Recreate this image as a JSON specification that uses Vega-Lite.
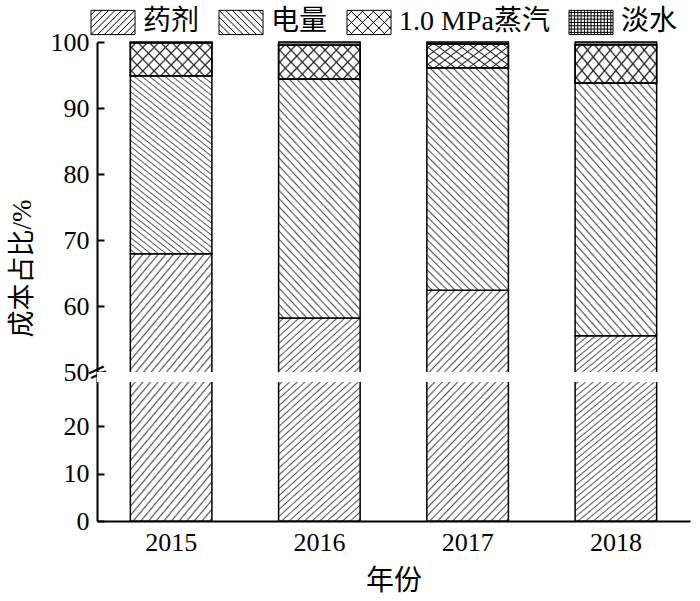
{
  "$schema": "https://vega.github.io/schema/vega-lite/v6.json",
  "width": 593,
  "height": 479,
  "autosize": "none",
  "padding": {"left": 97, "top": 42, "right": 10, "bottom": 80},
  "background": "white",
  "config": {
    "view": {"stroke": null},
    "font": "Liberation Serif, Noto Sans CJK SC",
    "axis": {
      "labelFont": "Liberation Serif, Noto Sans CJK SC",
      "titleFont": "Liberation Serif, Noto Sans CJK SC",
      "labelColor": "black",
      "titleColor": "black",
      "titleFontWeight": "normal",
      "domainColor": "black",
      "tickColor": "black"
    }
  },
  "data": {
    "values": [
      {"year": "2015", "cat": "药剂", "ord": 1, "value": 67.9},
      {"year": "2015", "cat": "电量", "ord": 2, "value": 27.0},
      {"year": "2015", "cat": "1.0 MPa蒸汽", "ord": 3, "value": 5.0},
      {"year": "2015", "cat": "淡水", "ord": 4, "value": 0.1},
      {"year": "2016", "cat": "药剂", "ord": 1, "value": 58.2},
      {"year": "2016", "cat": "电量", "ord": 2, "value": 36.2},
      {"year": "2016", "cat": "1.0 MPa蒸汽", "ord": 3, "value": 5.1},
      {"year": "2016", "cat": "淡水", "ord": 4, "value": 0.5},
      {"year": "2017", "cat": "药剂", "ord": 1, "value": 62.4},
      {"year": "2017", "cat": "电量", "ord": 2, "value": 33.7},
      {"year": "2017", "cat": "1.0 MPa蒸汽", "ord": 3, "value": 3.6},
      {"year": "2017", "cat": "淡水", "ord": 4, "value": 0.3},
      {"year": "2018", "cat": "药剂", "ord": 1, "value": 55.5},
      {"year": "2018", "cat": "电量", "ord": 2, "value": 38.3},
      {"year": "2018", "cat": "1.0 MPa蒸汽", "ord": 3, "value": 5.8},
      {"year": "2018", "cat": "淡水", "ord": 4, "value": 0.4}
    ]
  },
  "transform": [
    {"stack": "value", "groupby": ["year"], "sort": [{"field": "ord", "order": "ascending"}], "as": ["v0", "v1"]}
  ],
  "resolve": {"axis": {"y": "independent"}},
  "layer": [
    {
      "mark": {"type": "point", "filled": false, "color": "black", "strokeWidth": 1, "size": 484, "opacity": 1},
      "encoding": {
        "x": {
          "field": "year", "type": "nominal",
          "scale": {"type": "band", "paddingInner": 0.45, "paddingOuter": 0.225},
          "axis": {
            "title": "年份", "labelAngle": 0, "labelFontSize": 26, "titleFontSize": 28,
            "domainWidth": 2, "tickWidth": 2, "tickSize": -7, "labelPadding": 15, "titlePadding": 12
          }
        },
        "y": {
          "datum": 10, "type": "quantitative",
          "scale": {"type": "linear", "domain": [0, 29.3, 50, 100], "range": [479, 340, 330, 0], "nice": false, "zero": false},
          "axis": null
        },
        "shape": {
          "field": "cat", "type": "nominal",
          "scale": {
            "domain": ["药剂", "电量", "1.0 MPa蒸汽", "淡水"],
            "range": [
              "M-2,-1.1H2V1.1H-2Z M-2,-0.7L-1.6,-1.1 M-2,-0.1L-1,-1.1 M-2,0.5L-0.4,-1.1 M-2,1.1L0.2,-1.1 M-1.4,1.1L0.8,-1.1 M-0.8,1.1L1.4,-1.1 M-0.2,1.1L2,-1.1 M0.4,1.1L2,-0.5 M1,1.1L2,0.1 M1.6,1.1L2,0.7",
              "M-2,-1.1H2V1.1H-2Z M-2,0.7L-1.6,1.1 M-2,0.1L-1,1.1 M-2,-0.5L-0.4,1.1 M-2,-1.1L0.2,1.1 M-1.4,-1.1L0.8,1.1 M-0.8,-1.1L1.4,1.1 M-0.2,-1.1L2,1.1 M0.4,-1.1L2,0.5 M1,-1.1L2,-0.1 M1.6,-1.1L2,-0.7",
              "M-2,-1.1H2V1.1H-2Z M-2,-0.6L-1.5,-1.1 M-2,0.4L-0.5,-1.1 M-1.7,1.1L0.5,-1.1 M-0.7,1.1L1.5,-1.1 M0.3,1.1L2,-0.6 M1.3,1.1L2,0.4 M-2,0.6L-1.5,1.1 M-2,-0.4L-0.5,1.1 M-1.7,-1.1L0.5,1.1 M-0.7,-1.1L1.5,1.1 M0.3,-1.1L2,0.6 M1.3,-1.1L2,-0.4",
              "M-2,-1.1H2V1.1H-2Z M-1.8,-1.1V1.1 M-1.5,-1.1V1.1 M-1.2,-1.1V1.1 M-0.9,-1.1V1.1 M-0.6,-1.1V1.1 M-0.3,-1.1V1.1 M0,-1.1V1.1 M0.3,-1.1V1.1 M0.6,-1.1V1.1 M0.9,-1.1V1.1 M1.2,-1.1V1.1 M1.5,-1.1V1.1 M1.8,-1.1V1.1 M-2,-0.9H2 M-2,-0.6H2 M-2,-0.3H2 M-2,0H2 M-2,0.3H2 M-2,0.6H2 M-2,0.9H2"
            ]
          },
          "legend": {
            "orient": "none", "legendX": 2, "legendY": -34, "direction": "horizontal", "title": null,
            "padding": 0, "symbolSize": 484, "symbolStrokeWidth": 1, "symbolOpacity": 1,
            "labelFontSize": 28, "labelFont": "Liberation Serif, Noto Sans CJK SC", "labelColor": "black",
            "labelOffset": 16, "columnPadding": 17
          }
        }
      }
    },
    {
      "mark": {"type": "bar", "stroke": "black", "strokeWidth": 1.5},
      "encoding": {
        "x": {
          "field": "year", "type": "nominal",
          "scale": {"type": "band", "paddingInner": 0.45, "paddingOuter": 0.225},
          "axis": {
            "title": "年份", "labelAngle": 0, "labelFontSize": 26, "titleFontSize": 28,
            "domainWidth": 2, "tickWidth": 2, "tickSize": -7, "labelPadding": 15, "titlePadding": 12
          }
        },
        "y": {
          "field": "v0", "type": "quantitative",
          "scale": {"type": "linear", "domain": [0, 29.3, 50, 100], "range": [479, 340, 330, 0], "nice": false, "zero": false},
          "axis": {
            "title": "成本占比/%", "values": [0, 10, 20, 50, 60, 70, 80, 90, 100], "grid": false,
            "labelFontSize": 26, "titleFontSize": 27, "domainWidth": 2, "tickWidth": 2, "tickSize": -7,
            "labelPadding": 15, "titlePadding": 14, "orient": "left", "titleY": 226, "titleX": -61
          }
        },
        "y2": {"field": "v1"},
        "fill": {
          "condition": [
            {"test": "datum.cat === '药剂'", "value": {"gradient": "linear", "x1": 0, "y1": 0, "x2": 0.4385, "y2": 1.2045, "stops": [
                {"offset": 0, "color": "#fff"},
                {"offset": 0.0125, "color": "#fff"}, {"offset": 0.0175, "color": "#555"}, {"offset": 0.0225, "color": "#fff"},
                {"offset": 0.0375, "color": "#fff"}, {"offset": 0.0425, "color": "#555"}, {"offset": 0.0475, "color": "#fff"},
                {"offset": 0.0625, "color": "#fff"}, {"offset": 0.0675, "color": "#555"}, {"offset": 0.0725, "color": "#fff"},
                {"offset": 0.0875, "color": "#fff"}, {"offset": 0.0925, "color": "#555"}, {"offset": 0.0975, "color": "#fff"},
                {"offset": 0.1125, "color": "#fff"}, {"offset": 0.1175, "color": "#555"}, {"offset": 0.1225, "color": "#fff"},
                {"offset": 0.1375, "color": "#fff"}, {"offset": 0.1425, "color": "#555"}, {"offset": 0.1475, "color": "#fff"},
                {"offset": 0.1625, "color": "#fff"}, {"offset": 0.1675, "color": "#555"}, {"offset": 0.1725, "color": "#fff"},
                {"offset": 0.1875, "color": "#fff"}, {"offset": 0.1925, "color": "#555"}, {"offset": 0.1975, "color": "#fff"},
                {"offset": 0.2125, "color": "#fff"}, {"offset": 0.2175, "color": "#555"}, {"offset": 0.2225, "color": "#fff"},
                {"offset": 0.2375, "color": "#fff"}, {"offset": 0.2425, "color": "#555"}, {"offset": 0.2475, "color": "#fff"},
                {"offset": 0.2625, "color": "#fff"}, {"offset": 0.2675, "color": "#555"}, {"offset": 0.2725, "color": "#fff"},
                {"offset": 0.2875, "color": "#fff"}, {"offset": 0.2925, "color": "#555"}, {"offset": 0.2975, "color": "#fff"},
                {"offset": 0.3125, "color": "#fff"}, {"offset": 0.3175, "color": "#555"}, {"offset": 0.3225, "color": "#fff"},
                {"offset": 0.3375, "color": "#fff"}, {"offset": 0.3425, "color": "#555"}, {"offset": 0.3475, "color": "#fff"},
                {"offset": 0.3625, "color": "#fff"}, {"offset": 0.3675, "color": "#555"}, {"offset": 0.3725, "color": "#fff"},
                {"offset": 0.3875, "color": "#fff"}, {"offset": 0.3925, "color": "#555"}, {"offset": 0.3975, "color": "#fff"},
                {"offset": 0.4125, "color": "#fff"}, {"offset": 0.4175, "color": "#555"}, {"offset": 0.4225, "color": "#fff"},
                {"offset": 0.4375, "color": "#fff"}, {"offset": 0.4425, "color": "#555"}, {"offset": 0.4475, "color": "#fff"},
                {"offset": 0.4625, "color": "#fff"}, {"offset": 0.4675, "color": "#555"}, {"offset": 0.4725, "color": "#fff"},
                {"offset": 0.4875, "color": "#fff"}, {"offset": 0.4925, "color": "#555"}, {"offset": 0.4975, "color": "#fff"},
                {"offset": 0.5125, "color": "#fff"}, {"offset": 0.5175, "color": "#555"}, {"offset": 0.5225, "color": "#fff"},
                {"offset": 0.5375, "color": "#fff"}, {"offset": 0.5425, "color": "#555"}, {"offset": 0.5475, "color": "#fff"},
                {"offset": 0.5625, "color": "#fff"}, {"offset": 0.5675, "color": "#555"}, {"offset": 0.5725, "color": "#fff"},
                {"offset": 0.5875, "color": "#fff"}, {"offset": 0.5925, "color": "#555"}, {"offset": 0.5975, "color": "#fff"},
                {"offset": 0.6125, "color": "#fff"}, {"offset": 0.6175, "color": "#555"}, {"offset": 0.6225, "color": "#fff"},
                {"offset": 0.6375, "color": "#fff"}, {"offset": 0.6425, "color": "#555"}, {"offset": 0.6475, "color": "#fff"},
                {"offset": 0.6625, "color": "#fff"}, {"offset": 0.6675, "color": "#555"}, {"offset": 0.6725, "color": "#fff"},
                {"offset": 0.6875, "color": "#fff"}, {"offset": 0.6925, "color": "#555"}, {"offset": 0.6975, "color": "#fff"},
                {"offset": 0.7125, "color": "#fff"}, {"offset": 0.7175, "color": "#555"}, {"offset": 0.7225, "color": "#fff"},
                {"offset": 0.7375, "color": "#fff"}, {"offset": 0.7425, "color": "#555"}, {"offset": 0.7475, "color": "#fff"},
                {"offset": 0.7625, "color": "#fff"}, {"offset": 0.7675, "color": "#555"}, {"offset": 0.7725, "color": "#fff"},
                {"offset": 0.7875, "color": "#fff"}, {"offset": 0.7925, "color": "#555"}, {"offset": 0.7975, "color": "#fff"},
                {"offset": 0.8125, "color": "#fff"}, {"offset": 0.8175, "color": "#555"}, {"offset": 0.8225, "color": "#fff"},
                {"offset": 0.8375, "color": "#fff"}, {"offset": 0.8425, "color": "#555"}, {"offset": 0.8475, "color": "#fff"},
                {"offset": 0.8625, "color": "#fff"}, {"offset": 0.8675, "color": "#555"}, {"offset": 0.8725, "color": "#fff"},
                {"offset": 0.8875, "color": "#fff"}, {"offset": 0.8925, "color": "#555"}, {"offset": 0.8975, "color": "#fff"},
                {"offset": 0.9125, "color": "#fff"}, {"offset": 0.9175, "color": "#555"}, {"offset": 0.9225, "color": "#fff"},
                {"offset": 0.9375, "color": "#fff"}, {"offset": 0.9425, "color": "#555"}, {"offset": 0.9475, "color": "#fff"},
                {"offset": 0.9625, "color": "#fff"}, {"offset": 0.9675, "color": "#555"}, {"offset": 0.9725, "color": "#fff"},
                {"offset": 0.9875, "color": "#fff"}, {"offset": 0.9925, "color": "#555"}, {"offset": 0.9975, "color": "#fff"},
                {"offset": 1, "color": "#fff"}
              ]}},
            {"test": "datum.cat === '电量'", "value": {"gradient": "linear", "x1": 0, "y1": 1, "x2": 0.4385, "y2": -0.2045, "stops": [
                {"offset": 0, "color": "#fff"},
                {"offset": 0.0125, "color": "#fff"}, {"offset": 0.0175, "color": "#555"}, {"offset": 0.0225, "color": "#fff"},
                {"offset": 0.0375, "color": "#fff"}, {"offset": 0.0425, "color": "#555"}, {"offset": 0.0475, "color": "#fff"},
                {"offset": 0.0625, "color": "#fff"}, {"offset": 0.0675, "color": "#555"}, {"offset": 0.0725, "color": "#fff"},
                {"offset": 0.0875, "color": "#fff"}, {"offset": 0.0925, "color": "#555"}, {"offset": 0.0975, "color": "#fff"},
                {"offset": 0.1125, "color": "#fff"}, {"offset": 0.1175, "color": "#555"}, {"offset": 0.1225, "color": "#fff"},
                {"offset": 0.1375, "color": "#fff"}, {"offset": 0.1425, "color": "#555"}, {"offset": 0.1475, "color": "#fff"},
                {"offset": 0.1625, "color": "#fff"}, {"offset": 0.1675, "color": "#555"}, {"offset": 0.1725, "color": "#fff"},
                {"offset": 0.1875, "color": "#fff"}, {"offset": 0.1925, "color": "#555"}, {"offset": 0.1975, "color": "#fff"},
                {"offset": 0.2125, "color": "#fff"}, {"offset": 0.2175, "color": "#555"}, {"offset": 0.2225, "color": "#fff"},
                {"offset": 0.2375, "color": "#fff"}, {"offset": 0.2425, "color": "#555"}, {"offset": 0.2475, "color": "#fff"},
                {"offset": 0.2625, "color": "#fff"}, {"offset": 0.2675, "color": "#555"}, {"offset": 0.2725, "color": "#fff"},
                {"offset": 0.2875, "color": "#fff"}, {"offset": 0.2925, "color": "#555"}, {"offset": 0.2975, "color": "#fff"},
                {"offset": 0.3125, "color": "#fff"}, {"offset": 0.3175, "color": "#555"}, {"offset": 0.3225, "color": "#fff"},
                {"offset": 0.3375, "color": "#fff"}, {"offset": 0.3425, "color": "#555"}, {"offset": 0.3475, "color": "#fff"},
                {"offset": 0.3625, "color": "#fff"}, {"offset": 0.3675, "color": "#555"}, {"offset": 0.3725, "color": "#fff"},
                {"offset": 0.3875, "color": "#fff"}, {"offset": 0.3925, "color": "#555"}, {"offset": 0.3975, "color": "#fff"},
                {"offset": 0.4125, "color": "#fff"}, {"offset": 0.4175, "color": "#555"}, {"offset": 0.4225, "color": "#fff"},
                {"offset": 0.4375, "color": "#fff"}, {"offset": 0.4425, "color": "#555"}, {"offset": 0.4475, "color": "#fff"},
                {"offset": 0.4625, "color": "#fff"}, {"offset": 0.4675, "color": "#555"}, {"offset": 0.4725, "color": "#fff"},
                {"offset": 0.4875, "color": "#fff"}, {"offset": 0.4925, "color": "#555"}, {"offset": 0.4975, "color": "#fff"},
                {"offset": 0.5125, "color": "#fff"}, {"offset": 0.5175, "color": "#555"}, {"offset": 0.5225, "color": "#fff"},
                {"offset": 0.5375, "color": "#fff"}, {"offset": 0.5425, "color": "#555"}, {"offset": 0.5475, "color": "#fff"},
                {"offset": 0.5625, "color": "#fff"}, {"offset": 0.5675, "color": "#555"}, {"offset": 0.5725, "color": "#fff"},
                {"offset": 0.5875, "color": "#fff"}, {"offset": 0.5925, "color": "#555"}, {"offset": 0.5975, "color": "#fff"},
                {"offset": 0.6125, "color": "#fff"}, {"offset": 0.6175, "color": "#555"}, {"offset": 0.6225, "color": "#fff"},
                {"offset": 0.6375, "color": "#fff"}, {"offset": 0.6425, "color": "#555"}, {"offset": 0.6475, "color": "#fff"},
                {"offset": 0.6625, "color": "#fff"}, {"offset": 0.6675, "color": "#555"}, {"offset": 0.6725, "color": "#fff"},
                {"offset": 0.6875, "color": "#fff"}, {"offset": 0.6925, "color": "#555"}, {"offset": 0.6975, "color": "#fff"},
                {"offset": 0.7125, "color": "#fff"}, {"offset": 0.7175, "color": "#555"}, {"offset": 0.7225, "color": "#fff"},
                {"offset": 0.7375, "color": "#fff"}, {"offset": 0.7425, "color": "#555"}, {"offset": 0.7475, "color": "#fff"},
                {"offset": 0.7625, "color": "#fff"}, {"offset": 0.7675, "color": "#555"}, {"offset": 0.7725, "color": "#fff"},
                {"offset": 0.7875, "color": "#fff"}, {"offset": 0.7925, "color": "#555"}, {"offset": 0.7975, "color": "#fff"},
                {"offset": 0.8125, "color": "#fff"}, {"offset": 0.8175, "color": "#555"}, {"offset": 0.8225, "color": "#fff"},
                {"offset": 0.8375, "color": "#fff"}, {"offset": 0.8425, "color": "#555"}, {"offset": 0.8475, "color": "#fff"},
                {"offset": 0.8625, "color": "#fff"}, {"offset": 0.8675, "color": "#555"}, {"offset": 0.8725, "color": "#fff"},
                {"offset": 0.8875, "color": "#fff"}, {"offset": 0.8925, "color": "#555"}, {"offset": 0.8975, "color": "#fff"},
                {"offset": 0.9125, "color": "#fff"}, {"offset": 0.9175, "color": "#555"}, {"offset": 0.9225, "color": "#fff"},
                {"offset": 0.9375, "color": "#fff"}, {"offset": 0.9425, "color": "#555"}, {"offset": 0.9475, "color": "#fff"},
                {"offset": 0.9625, "color": "#fff"}, {"offset": 0.9675, "color": "#555"}, {"offset": 0.9725, "color": "#fff"},
                {"offset": 0.9875, "color": "#fff"}, {"offset": 0.9925, "color": "#555"}, {"offset": 0.9975, "color": "#fff"},
                {"offset": 1, "color": "#fff"}
              ]}},
            {"test": "datum.cat === '1.0 MPa蒸汽'", "value": {"gradient": "linear", "x1": 0, "y1": 0, "x2": 1.2066, "y2": 0.4709, "stops": [
                {"offset": 0, "color": "#fff"},
                {"offset": 0.035, "color": "#fff"}, {"offset": 0.05, "color": "#222"}, {"offset": 0.065, "color": "#fff"},
                {"offset": 0.135, "color": "#fff"}, {"offset": 0.15, "color": "#222"}, {"offset": 0.165, "color": "#fff"},
                {"offset": 0.235, "color": "#fff"}, {"offset": 0.25, "color": "#222"}, {"offset": 0.265, "color": "#fff"},
                {"offset": 0.335, "color": "#fff"}, {"offset": 0.35, "color": "#222"}, {"offset": 0.365, "color": "#fff"},
                {"offset": 0.435, "color": "#fff"}, {"offset": 0.45, "color": "#222"}, {"offset": 0.465, "color": "#fff"},
                {"offset": 0.535, "color": "#fff"}, {"offset": 0.55, "color": "#222"}, {"offset": 0.565, "color": "#fff"},
                {"offset": 0.635, "color": "#fff"}, {"offset": 0.65, "color": "#222"}, {"offset": 0.665, "color": "#fff"},
                {"offset": 0.735, "color": "#fff"}, {"offset": 0.75, "color": "#222"}, {"offset": 0.765, "color": "#fff"},
                {"offset": 0.835, "color": "#fff"}, {"offset": 0.85, "color": "#222"}, {"offset": 0.865, "color": "#fff"},
                {"offset": 0.935, "color": "#fff"}, {"offset": 0.95, "color": "#222"}, {"offset": 0.965, "color": "#fff"},
                {"offset": 1, "color": "#fff"}
              ]}}
          ],
          "value": "#777777"
        }
      }
    },
    {
      "transform": [{"filter": "datum.cat === '1.0 MPa蒸汽'"}],
      "mark": {
        "type": "bar", "stroke": "black", "strokeWidth": 1.5,
        "fill": {"gradient": "linear", "x1": 0, "y1": 1, "x2": 1.2066, "y2": 0.5291, "stops": [
          {"offset": 0, "color": "rgba(34,34,34,0)"},
          {"offset": 0.035, "color": "rgba(34,34,34,0)"}, {"offset": 0.05, "color": "#222"}, {"offset": 0.065, "color": "rgba(34,34,34,0)"},
          {"offset": 0.135, "color": "rgba(34,34,34,0)"}, {"offset": 0.15, "color": "#222"}, {"offset": 0.165, "color": "rgba(34,34,34,0)"},
          {"offset": 0.235, "color": "rgba(34,34,34,0)"}, {"offset": 0.25, "color": "#222"}, {"offset": 0.265, "color": "rgba(34,34,34,0)"},
          {"offset": 0.335, "color": "rgba(34,34,34,0)"}, {"offset": 0.35, "color": "#222"}, {"offset": 0.365, "color": "rgba(34,34,34,0)"},
          {"offset": 0.435, "color": "rgba(34,34,34,0)"}, {"offset": 0.45, "color": "#222"}, {"offset": 0.465, "color": "rgba(34,34,34,0)"},
          {"offset": 0.535, "color": "rgba(34,34,34,0)"}, {"offset": 0.55, "color": "#222"}, {"offset": 0.565, "color": "rgba(34,34,34,0)"},
          {"offset": 0.635, "color": "rgba(34,34,34,0)"}, {"offset": 0.65, "color": "#222"}, {"offset": 0.665, "color": "rgba(34,34,34,0)"},
          {"offset": 0.735, "color": "rgba(34,34,34,0)"}, {"offset": 0.75, "color": "#222"}, {"offset": 0.765, "color": "rgba(34,34,34,0)"},
          {"offset": 0.835, "color": "rgba(34,34,34,0)"}, {"offset": 0.85, "color": "#222"}, {"offset": 0.865, "color": "rgba(34,34,34,0)"},
          {"offset": 0.935, "color": "rgba(34,34,34,0)"}, {"offset": 0.95, "color": "#222"}, {"offset": 0.965, "color": "rgba(34,34,34,0)"},
          {"offset": 1, "color": "rgba(34,34,34,0)"}
        ]}
      },
      "encoding": {
        "x": {"field": "year", "type": "nominal", "scale": {"type": "band", "paddingInner": 0.45, "paddingOuter": 0.225}},
        "y": {
          "field": "v0", "type": "quantitative",
          "scale": {"type": "linear", "domain": [0, 29.3, 50, 100], "range": [479, 340, 330, 0], "nice": false, "zero": false},
          "axis": null
        },
        "y2": {"field": "v1"}
      }
    },
    {
      "transform": [{"filter": "datum.year === '2015' && datum.ord === 1"}],
      "mark": {"type": "rect", "fill": "white"},
      "encoding": {
        "y": {
          "datum": 29.3, "type": "quantitative",
          "scale": {"type": "linear", "domain": [0, 29.3, 50, 100], "range": [479, 340, 330, 0], "nice": false, "zero": false},
          "axis": {
            "orient": "left", "values": [50], "labelExpr": "'='", "domain": false, "ticks": false, "grid": false,
            "title": null, "labelAngle": -25, "labelAlign": "center", "labelBaseline": "middle", "labelPadding": 0,
            "labelFont": "DejaVu Sans", "labelFontSize": 26, "labelColor": "black"
          }
        },
        "y2": {"datum": 50}
      }
    }
  ]
}
